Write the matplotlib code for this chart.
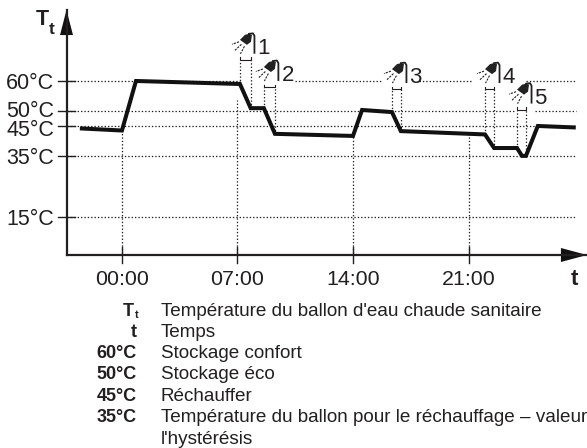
import matplotlib
matplotlib.use('Agg')
import matplotlib.pyplot as plt
from matplotlib.transforms import ScaledTranslation

plt.rcParams['font.family'] = ['Liberation Sans', 'DejaVu Sans']

WIDTH = 587
HEIGHT = 448
INK = '#231f20'

# temperature curve (hours, degC)
hours = [-2.55, 0, 0.85, 7.15, 7.8, 8.6, 9.27, 14, 14.55, 16.36, 16.9, 22, 22.55, 23.94, 24.24, 24.48, 25.2, 27.5]
temps = [44.3, 43.6, 60, 59, 51, 51, 42.5, 41.8, 50.4, 49.7, 43.4, 42.3, 37.8, 37.8, 35.2, 35.2, 45.1, 44.6]

temp_ticks = [60, 50, 45, 35, 15]
temp_labels = ['60°C', '50°C', '45°C', '35°C', '15°C']
time_ticks = [0, 7, 14, 21]
time_labels = ['00:00', '07:00', '14:00', '21:00']

# dotted guides
h_guides = [(60, -3.36, 7.15), (60, 10.5, 15.7), (60, 18, 21.3), (60, 24.5, 27.5),
            (50, -3.36, 23.8), (50, 25, 27.5), (45, -3.36, 27.5), (35, -3.36, 27.5), (15, -3.36, 27.5)]
v_guides = [(0, 3, 43.6), (7, 3, 53.6), (14, 3, 41.8), (21, 3, 43)]

# draw-offs: start hour, end hour, bracket temperature, temperature at the start, at the end
shower_names = ['1', '2', '3', '4', '5']
shower_start = [7.15, 8.6, 16.36, 22, 23.94]
shower_end = [7.8, 9.27, 16.9, 22.55, 24.48]
shower_top = [67, 58, 57.3, 57.3, 50.5]
shower_low_start = [59, 51, 49.7, 42.3, 37.8]
shower_low_end = [51, 42.5, 43.4, 37.8, 35.2]

legend_keys = ['T', 't', '60°C', '50°C', '45°C', '35°C', '']
legend_text = ["Température du ballon d'eau chaude sanitaire", 'Temps', 'Stockage confort', 'Stockage éco',
               'Réchauffer', 'Température du ballon pour le réchauffage – valeur', "l'hystérésis"]
legend_base = [316, 337, 358, 379, 400.5, 421.5, 444]

fig = plt.figure(figsize=(WIDTH / 100, HEIGHT / 100), dpi=100)
ax = fig.add_axes([66.5 / WIDTH, 1 - 255 / HEIGHT, (587 - 66.5) / WIDTH, (255 - 10) / HEIGHT])
ax.set_xlim(-3.36, 28.18)
ax.set_ylim(2.38, 83.5)
ax.patch.set_alpha(0)
px_x = 1 / 16.5
px_y = 1 / 3.02

for s in ['top', 'right']:
    ax.spines[s].set_visible(False)
for s in ['left', 'bottom']:
    ax.spines[s].set_linewidth(1.6)
    ax.spines[s].set_color(INK)

dots = (0, (1.1, 1.6))
for t, a, b in h_guides:
    ax.plot([a, b], [t, t], color=INK, lw=0.9, ls=dots)
for h, a, b in v_guides:
    ax.plot([h, h], [a, b], color=INK, lw=0.9, ls=dots)

ax.plot(hours, temps, color='#111111', lw=2.9, solid_joinstyle='miter', solid_capstyle='butt', zorder=5)

# arrow heads
ax.fill([-3.36 - 6.5 * px_x, -3.36 + 6.5 * px_x, -3.36], [75.2, 75.2, 83.5], color='#111111', lw=0, clip_on=False)
ax.fill([26.6, 26.6, 28.18], [2.38 - 7 * px_y, 2.38 + 7 * px_y, 2.38], color='#111111', lw=0, clip_on=False)

ax.set_yticks(temp_ticks)
ax.set_yticklabels(temp_labels)
ax.set_xticks(time_ticks)
ax.set_xticklabels(time_labels)
ax.tick_params(axis='y', length=0, labelsize=15.5, labelcolor=INK, pad=8.8)
ax.tick_params(axis='x', length=0, labelsize=15.4, labelcolor=INK, pad=10.5)

# tick marks cross the axis lines
for t in temp_ticks:
    ax.plot([-3.36 - 8 * px_x, -3.36 + 8 * px_x], [t, t], color=INK, lw=1.0, clip_on=False)
for h in time_ticks:
    ax.plot([h, h], [2.38 - 7.5 * px_y, 2.38 + 7.5 * px_y], color=INK, lw=1.0, clip_on=False)

# the 50 and 45 labels are pushed apart in the original
for lab, dy in zip(ax.get_yticklabels(), [0, 2.5, -1.5, 0, 0]):
    lab.set_transform(lab.get_transform() + ScaledTranslation(0, dy / 100, fig.dpi_scale_trans))


def shower(name, x0, x1, top, low0, low1):
    ax.plot([x0, x0], [low0, top], color=INK, lw=0.9, ls=dots)
    ax.plot([x1, x1], [low1, top], color=INK, lw=0.9, ls=dots)
    ax.plot([x0, x0, x1, x1], [top + 2.5 * px_y, top, top, top + 2.5 * px_y], color=INK, lw=0.8)
    # head and pipe, offsets in pixels from the bracket start
    def ox(v):
        return x0 + v * px_x
    def oy(v):
        return top + v * px_y
    ax.fill([ox(0), ox(5), ox(9), ox(12), ox(11), ox(7)],
            [oy(20), oy(25), oy(26), oy(25), oy(18), oy(15)], color='#222222', lw=0)
    ax.plot([ox(9), ox(13), ox(14.5), ox(14.5)], [oy(26), oy(26.5), oy(24), oy(7)], color=INK, lw=1.3)
    for a, b in [((-1, 18), (-8, 15.5)), ((1.5, 15.5), (-5, 9.5)), ((4.5, 13.5), (0.5, 6))]:
        ax.plot([ox(a[0]), ox(b[0])], [oy(a[1]), oy(b[1])], color=INK, lw=0.8, ls=(0, (2, 1)))
    ax.text(ox(17.5), oy(6), name, fontsize=16, color=INK, ha='left', va='baseline')


for i in range(len(shower_names)):
    shower(shower_names[i], shower_start[i], shower_end[i], shower_top[i], shower_low_start[i], shower_low_end[i])


def px_text(x, y, s, **kw):
    fig.text(x / WIDTH, 1 - y / HEIGHT, s, color=INK, va='baseline', **kw)


px_text(36, 25, 'T', fontsize=15.5, fontweight='bold')
px_text(49, 34, 't', fontsize=12.5, fontweight='bold')
px_text(571, 285, 't', fontsize=16, fontweight='bold')

for key, text, y in zip(legend_keys, legend_text, legend_base):
    if key == 'T':
        px_text(134, y, 'T', fontsize=13, fontweight='bold', ha='right')
        px_text(139, y + 2, 't', fontsize=8, fontweight='bold', ha='right')
    elif key:
        px_text(137, y, key, fontsize=13, fontweight='bold', ha='right')
    px_text(161, y, text, fontsize=13.55)

fig.savefig('out.png', dpi=100)
